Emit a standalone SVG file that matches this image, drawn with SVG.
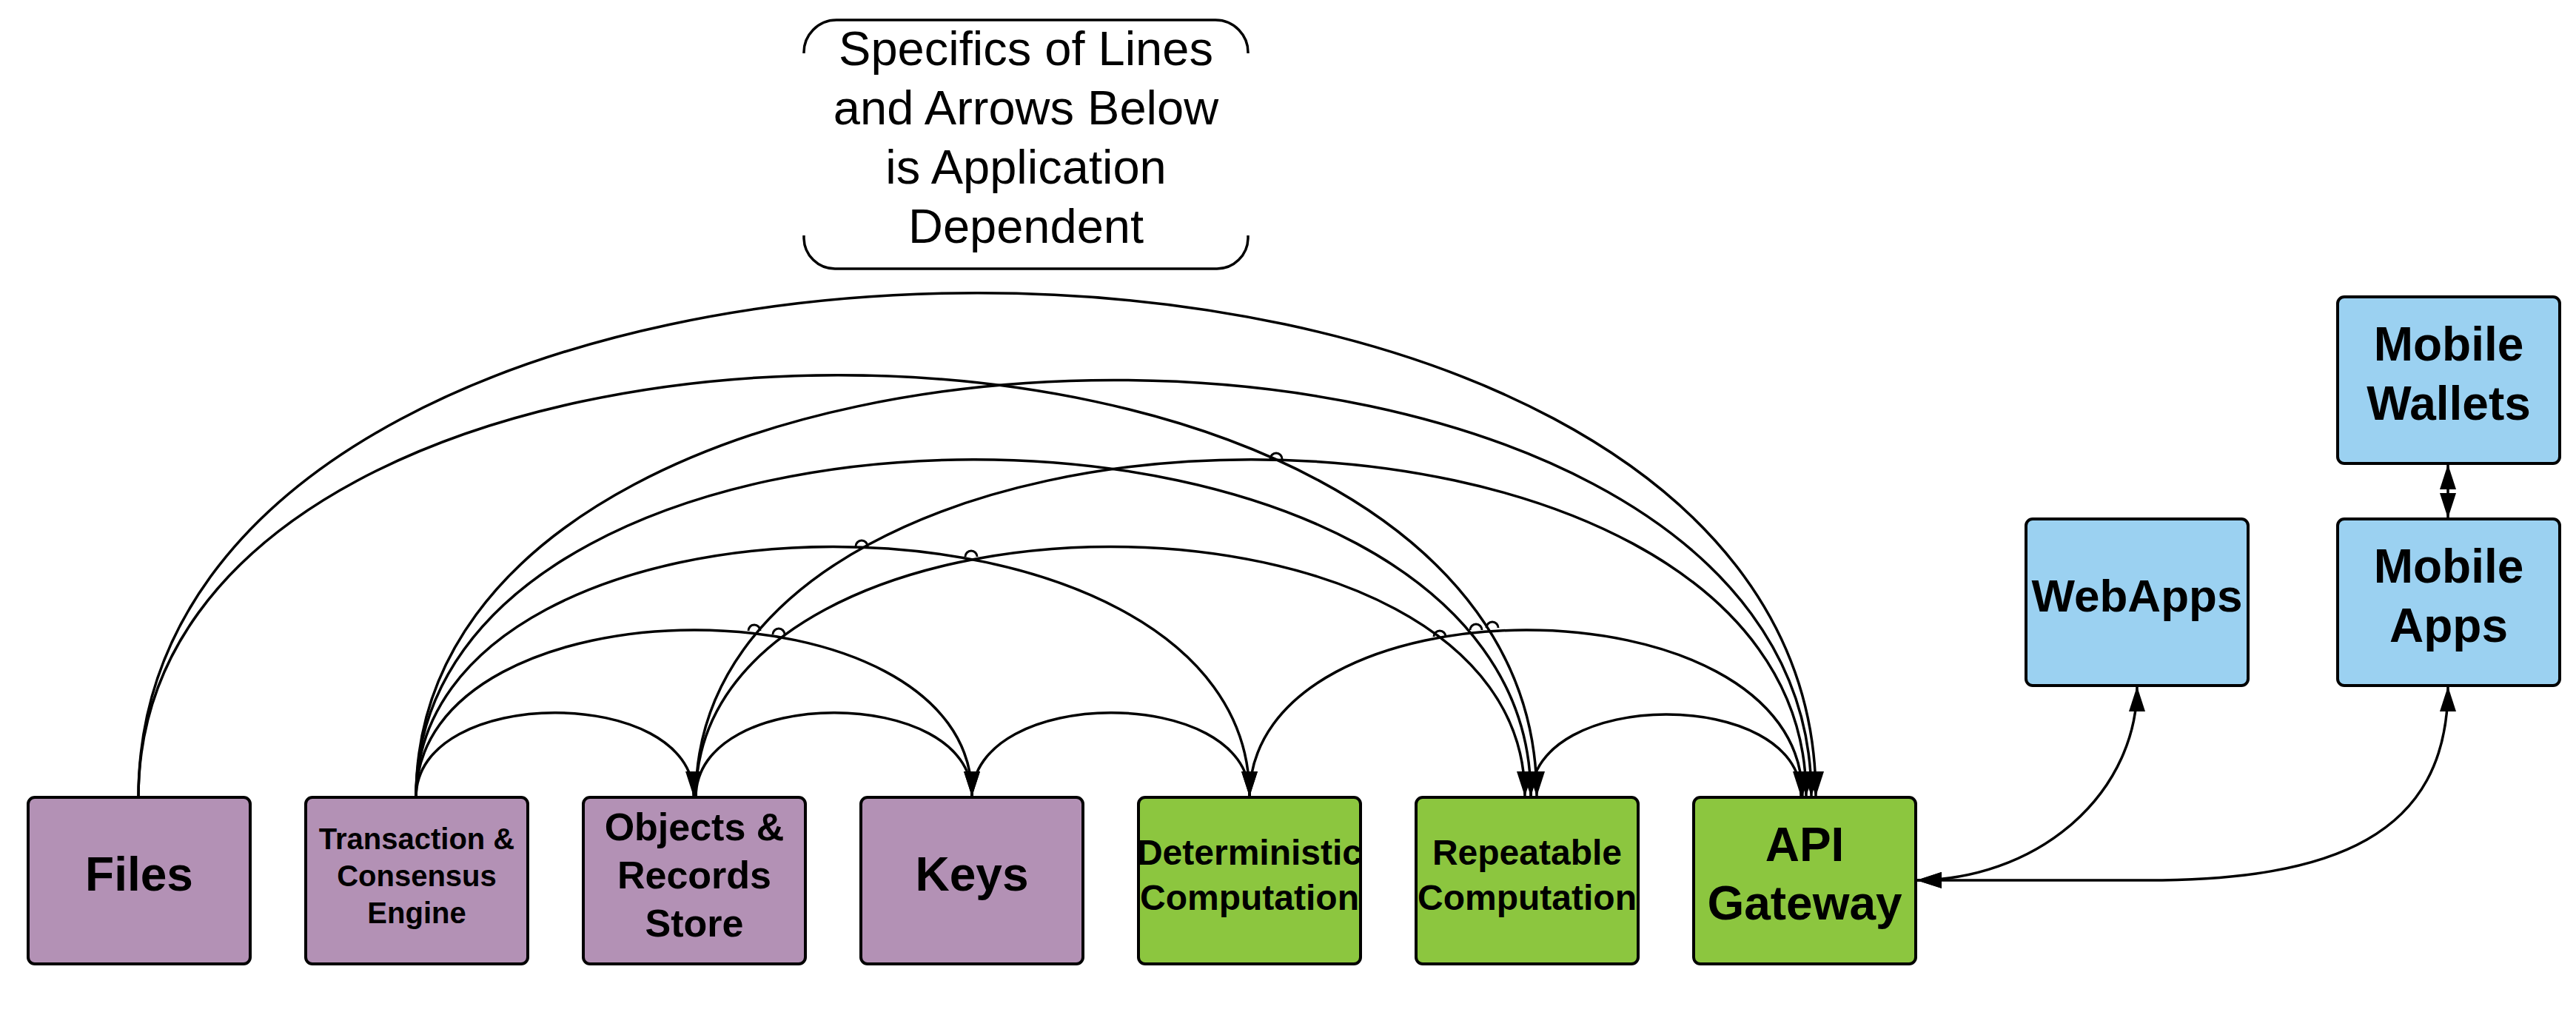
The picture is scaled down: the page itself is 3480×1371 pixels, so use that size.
<svg xmlns="http://www.w3.org/2000/svg" width="3480" height="1371" viewBox="0 0 3480 1371">
<defs>
<marker id="ah" viewBox="0 0 34 22" refX="33" refY="11" markerWidth="34" markerHeight="22" markerUnits="userSpaceOnUse" orient="auto-start-reverse"><path d="M0,0 L34,11 L0,22 z" fill="#000"/></marker>
<style>
.box{stroke:#000;stroke-width:4}
.p{fill:#B391B5}.g{fill:#8CC63F}.b{fill:#9BD1F1}
text{font-family:"Liberation Sans",Arial,sans-serif;fill:#000;text-anchor:middle}
.t{font-weight:bold}
.n{font-size:65px}
.c{fill:none;stroke:#000;stroke-width:3.5}
.a{marker-end:url(#ah)}
.ab{marker-start:url(#ah);marker-end:url(#ah)}
.hop{fill:none;stroke:#000;stroke-width:3}
</style>
</defs>
<rect width="3480" height="1371" fill="#fff"/>
<g id="note">
<path d="M1086,72 A44,44 0 0 1 1130,27 L1642,27 A44,44 0 0 1 1686,72 M1086,318 L1086,322 A42,42 0 0 0 1128,363 L1644,363 A42,42 0 0 0 1686,322 L1686,318" fill="none" stroke="#000" stroke-width="3.5"/>
<text class="n" x="1386" y="88">Specifics of Lines</text>
<text class="n" x="1386" y="168">and Arrows Below</text>
<text class="n" x="1386" y="248">is Application</text>
<text class="n" x="1386" y="328">Dependent</text>
</g>
<g id="connectors">
<path class="c a" d="M187,1077 C187,169 2453,169 2453,1075"/>
<path class="c a" d="M187,1077 C187,317 2076,317 2076,1075"/>
<path class="c a" d="M562,1077 C562,326 2447,326 2447,1075"/>
<path class="c a" d="M562,1077 C562,469 2068,469 2068,1075"/>
<path class="c a" d="M940,1077 C940,469 2440,469 2440,1075"/>
<path class="c a" d="M562,1077 C562,626 1688,626 1688,1075"/>
<path class="c a" d="M940,1077 C940,626 2060,626 2060,1075"/>
<path class="c a" d="M562,1077 C562,776 1313,776 1313,1075"/>
<path class="c a" d="M1688,1077 C1688,776 2435,776 2435,1075"/>
<path class="c a" d="M562,1077 C562,925 937,925 937,1075"/>
<path class="c a" d="M940,1077 C940,925 1313,925 1313,1075"/>
<path class="c a" d="M1313,1077 C1313,925 1688,925 1688,1075"/>
<path class="c a" d="M2068,1077 C2068,928 2433,928 2433,1075"/>
<path class="hop" d="M1011,852 A8,8 0 0 1 1027,852"/>
<path class="hop" d="M1044,857 A8,8 0 0 1 1060,857"/>
<path class="hop" d="M1156,738 A8,8 0 0 1 1172,738"/>
<path class="hop" d="M1304,752 A8,8 0 0 1 1320,752"/>
<path class="hop" d="M1716,620 A8,8 0 0 1 1732,620"/>
<path class="hop" d="M1937,860 A8,8 0 0 1 1953,860"/>
<path class="hop" d="M1986,851 A8,8 0 0 1 2002,851"/>
<path class="hop" d="M2008,848 A8,8 0 0 1 2024,848"/>
<path class="c ab" d="M2887,928 A299,261 0 0 1 2590,1189"/>
<path class="c ab" d="M3307,928 C3307,1130 3150,1189 2900,1189 L2590,1189"/>
<path class="c ab" d="M3307,628 L3307,699"/>
</g>
<g id="files"><rect class="box p" x="38" y="1077" width="300" height="225" rx="9"/><text class="t" x="188" y="1203" font-size="64">Files</text></g>
<g id="transaction"><rect class="box p" x="413" y="1077" width="300" height="225" rx="9"/><text class="t" x="563" y="1147" font-size="40">Transaction &amp;</text><text class="t" x="563" y="1197" font-size="40">Consensus</text><text class="t" x="563" y="1247" font-size="40">Engine</text></g>
<g id="objects"><rect class="box p" x="788" y="1077" width="300" height="225" rx="9"/><text class="t" x="938" y="1135" font-size="52">Objects &amp;</text><text class="t" x="938" y="1200" font-size="52">Records</text><text class="t" x="938" y="1265" font-size="52">Store</text></g>
<g id="keys"><rect class="box p" x="1163" y="1077" width="300" height="225" rx="9"/><text class="t" x="1313" y="1203" font-size="64">Keys</text></g>
<g id="deterministic"><rect class="box g" x="1538" y="1077" width="300" height="225" rx="9"/><text class="t" x="1688" y="1168" font-size="48">Deterministic</text><text class="t" x="1688" y="1229" font-size="48">Computation</text></g>
<g id="repeatable"><rect class="box g" x="1913" y="1077" width="300" height="225" rx="9"/><text class="t" x="2063" y="1168" font-size="48">Repeatable</text><text class="t" x="2063" y="1229" font-size="48">Computation</text></g>
<g id="api"><rect class="box g" x="2288" y="1077" width="300" height="225" rx="9"/><text class="t" x="2438" y="1163" font-size="64">API</text><text class="t" x="2438" y="1242" font-size="64">Gateway</text></g>
<g id="webapps"><rect class="box b" x="2737" y="701" width="300" height="225" rx="9"/><text class="t" x="2887" y="826" font-size="62">WebApps</text></g>
<g id="wallets"><rect class="box b" x="3158" y="401" width="300" height="225" rx="9"/><text class="t" x="3308" y="487" font-size="64">Mobile</text><text class="t" x="3308" y="567" font-size="64">Wallets</text></g>
<g id="mobileapps"><rect class="box b" x="3158" y="701" width="300" height="225" rx="9"/><text class="t" x="3308" y="787" font-size="64">Mobile</text><text class="t" x="3308" y="867" font-size="64">Apps</text></g>
</svg>
